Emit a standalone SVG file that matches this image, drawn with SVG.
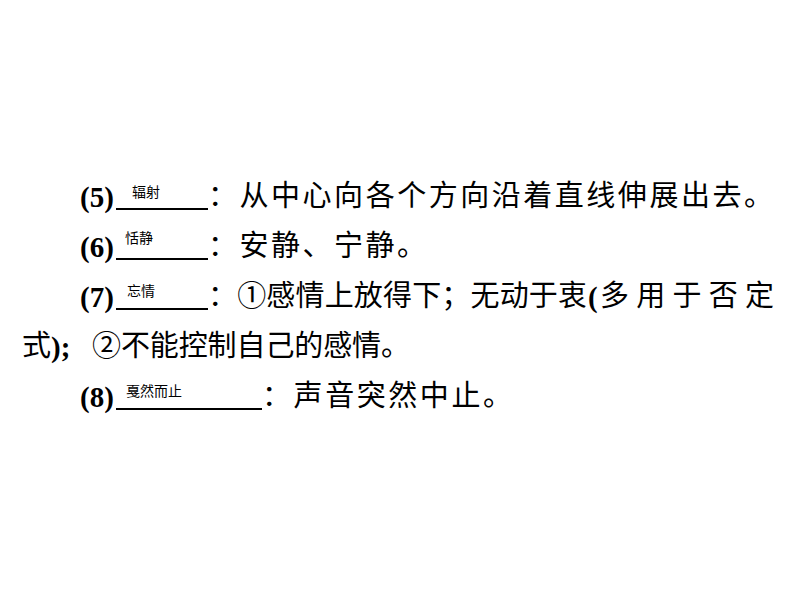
<svg xmlns="http://www.w3.org/2000/svg" width="794" height="596" viewBox="0 0 794 596">
<style>
.n{font-family:"Liberation Serif",serif;font-weight:bold;font-size:29px;fill:#000}
.t{font-family:"Noto Sans CJK SC",sans-serif;font-size:29px;fill:#000}
.s{font-family:"Noto Sans CJK SC",sans-serif;font-size:14px;fill:#000}
.u{stroke:#000;stroke-width:2}
</style>
<rect width="794" height="596" fill="#fff"/>
<g id="l5">
<text class="n" x="80" y="207">(5)</text>
<line class="u" x1="116" y1="209" x2="208" y2="209"/>
<text class="s" x="132" y="197">辐射</text>
<text class="t" x="208" y="206" textLength="565" lengthAdjust="spacing">：从中心向各个方向沿着直线伸展出去。</text>
</g>
<g id="l6">
<text class="n" x="80" y="257">(6)</text>
<line class="u" x1="116" y1="259" x2="208" y2="259"/>
<text class="s" x="125" y="243">恬静</text>
<text class="t" x="208" y="256" textLength="218" lengthAdjust="spacing">：安静、宁静。</text>
</g>
<g id="l7">
<text class="n" x="80" y="307">(7)</text>
<line class="u" x1="116" y1="309" x2="208" y2="309"/>
<text class="s" x="127" y="296">忘情</text>
<text class="t" x="208" y="306" textLength="379" lengthAdjust="spacing">：①感情上放得下；无动于衷</text>
<text class="n" x="588" y="307">(</text>
<text class="t" x="600" y="306" textLength="174" lengthAdjust="spacing">多用于否定</text>
<text class="t" x="22" y="356">式</text>
<text class="n" x="51" y="357">);</text>
<text class="t" x="92" y="356" textLength="318" lengthAdjust="spacing">②不能控制自己的感情。</text>
</g>
<g id="l8">
<text class="n" x="80" y="407">(8)</text>
<line class="u" x1="116" y1="409" x2="262" y2="409"/>
<text class="s" x="126" y="396">戛然而止</text>
<text class="t" x="262" y="406" textLength="250" lengthAdjust="spacing">：声音突然中止。</text>
</g>
</svg>
